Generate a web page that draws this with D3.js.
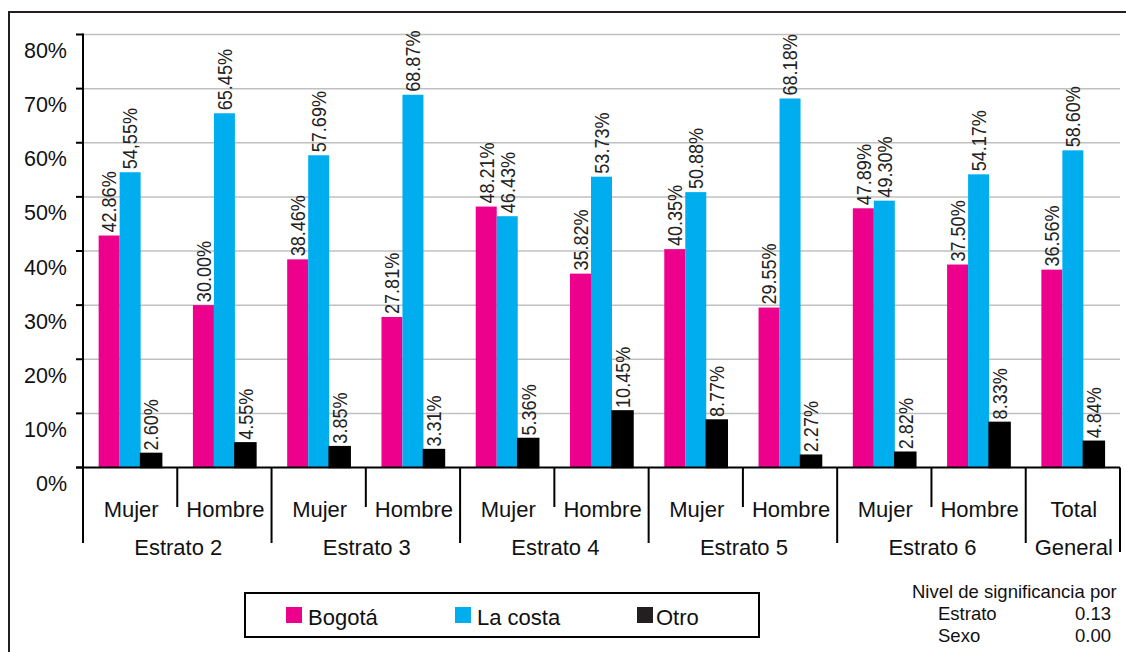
<!DOCTYPE html>
<html>
<head>
<meta charset="utf-8">
<script src="https://cdn.jsdelivr.net/npm/d3@7"></script>
<style>
  html, body { margin: 0; padding: 0; background: #fff; }
  svg { display: block; font-family: "Liberation Sans", Arial, sans-serif; }
</style>
</head>
<body>
<svg id="chart" width="1126" height="652"></svg>
<script>
// Lower axis: sex row and stratum row
const sexLabels = ["Mujer", "Hombre", "Mujer", "Hombre", "Mujer", "Hombre",
                   "Mujer", "Hombre", "Mujer", "Hombre", "Total"];
const stratumLabels = ["Estrato 2", "Estrato 3", "Estrato 4", "Estrato 5", "Estrato 6", "General"];
const stratumSpans = [2, 2, 2, 2, 2, 1];

// Series (percent)
const seriesNames = ["Bogotá", "La costa", "Otro"];
const seriesColors = ["#EC008C", "#00AEEF", "#000000"];
const bogota = [42.86, 30.00, 38.46, 27.81, 48.21, 35.82, 40.35, 29.55, 47.89, 37.50, 36.56];
const laCosta = [54.55, 65.45, 57.69, 68.87, 46.43, 53.73, 50.88, 68.18, 49.30, 54.17, 58.60];
const otro = [2.60, 4.55, 3.85, 3.31, 5.36, 10.45, 8.77, 2.27, 2.82, 8.33, 4.84];
const seriesValues = [bogota, laCosta, otro];
// labels written with a decimal comma: [series index, category index]
const commaLabels = [[1, 0]];

const yTicks = [0, 10, 20, 30, 40, 50, 60, 70, 80];

// Significance note
const noteTitle = "Nivel de significancia por";
const noteRows = [["Estrato", "0.13"], ["Sexo", "0.00"]];

(function draw() {
  const svg = d3.select("#chart");
  const W = 1126, H = 652;
  const plotLeft = 83, plotRight = 1120, plotTop = 34.5, plotBottom = 467.5;

  // Outer frame (top and left edges visible)
  svg.append("path")
    .attr("d", `M9,${H + 5}V12H${W + 5}`)
    .attr("fill", "none").attr("stroke", "#231F20").attr("stroke-width", 2);

  const x = d3.scaleBand().domain(d3.range(sexLabels.length)).range([plotLeft, plotRight]).padding(0);
  const g = x.bandwidth();
  const xs = d3.scaleBand().domain(d3.range(seriesNames.length)).range([0, g])
    .paddingInner(0).paddingOuter(0.745);
  const y = d3.scaleLinear().domain([0, 80]).range([plotBottom, plotTop]);

  // Gridlines
  svg.append("g").selectAll("line").data(yTicks.filter(d => d > 0)).join("line")
    .attr("x1", plotLeft).attr("x2", plotRight)
    .attr("y1", d => y(d)).attr("y2", d => y(d))
    .attr("stroke", "#c0c0c0").attr("stroke-width", 1.5);

  // Bars
  const fmt = d3.format(".2f");
  const barData = [];
  seriesValues.forEach((vals, s) => vals.forEach((v, i) => {
    let label = fmt(v) + "%";
    if (commaLabels.some(([cs, ci]) => cs === s && ci === i)) label = label.replace(".", ",");
    barData.push({ s, i, v, label });
  }));

  svg.append("g").selectAll("rect").data(barData).join("rect")
    .attr("x", d => x(d.i) + xs(d.s))
    .attr("width", xs.bandwidth())
    .attr("y", d => y(d.v))
    .attr("height", d => y(0) - y(d.v))
    .attr("fill", d => seriesColors[d.s])
    .attr("stroke", d => d.s === 2 ? "#000" : "none")
    .attr("stroke-width", 1.5);

  // Value labels, vertical
  svg.append("g").selectAll("text").data(barData).join("text")
    .attr("transform", d => `translate(${x(d.i) + xs(d.s) + xs.bandwidth() / 2},${y(d.v) - 3}) rotate(-90) scale(0.86,1)`)
    .attr("dy", "0.35em")
    .attr("text-anchor", "start")
    .attr("font-size", 21)
    .attr("fill", "#222")
    .text(d => d.label);

  // Y axis
  const yAxis = svg.append("g");
  yAxis.append("line").attr("x1", plotLeft).attr("x2", plotLeft).attr("y1", y(80) - 1).attr("y2", 543)
    .attr("stroke", "#000").attr("stroke-width", 2);
  yAxis.selectAll(".tick").data(yTicks).join("line")
    .attr("class", "tick")
    .attr("x1", plotLeft - 7).attr("x2", plotLeft)
    .attr("y1", d => y(d)).attr("y2", d => y(d))
    .attr("stroke", "#000").attr("stroke-width", 2);
  yAxis.selectAll("text").data(yTicks).join("text")
    .attr("x", 67).attr("y", d => y(d) + 23.5)
    .attr("text-anchor", "end")
    .attr("font-size", 21.5)
    .attr("fill", "#111")
    .text(d => d + "%");

  // X axis line
  svg.append("line").attr("x1", plotLeft - 7).attr("x2", plotRight).attr("y1", y(0)).attr("y2", y(0))
    .attr("stroke", "#000").attr("stroke-width", 2);

  // Category dividers: short between sexes, long between strata
  const stratumEnds = [];
  stratumSpans.reduce((acc, n) => { stratumEnds.push(acc + n); return acc + n; }, 0);
  const dividers = d3.range(1, sexLabels.length + 1).map(k => ({
    k, long: stratumEnds.includes(k)
  }));
  svg.append("g").selectAll("line").data(dividers).join("line")
    .attr("x1", d => x.step() * d.k + plotLeft).attr("x2", d => x.step() * d.k + plotLeft)
    .attr("y1", y(0)).attr("y2", d => d.k === sexLabels.length ? 552 : (d.long ? 543 : 507))
    .attr("stroke", "#000").attr("stroke-width", 2);

  svg.append("g").selectAll("text").data(sexLabels).join("text")
    .attr("x", (d, i) => x(i) + g / 2 + 1)
    .attr("y", 517)
    .attr("text-anchor", "middle")
    .attr("font-size", 22)
    .attr("fill", "#111")
    .text(d => d);

  let startIdx = 0;
  const stratumPos = stratumSpans.map(n => { const s = startIdx; startIdx += n; return { s, n }; });
  svg.append("g").selectAll("text").data(stratumLabels).join("text")
    .attr("x", (d, i) => x(stratumPos[i].s) + stratumPos[i].n * g / 2 + 1)
    .attr("y", 555)
    .attr("text-anchor", "middle")
    .attr("font-size", 22)
    .attr("fill", "#111")
    .text(d => d);

  // Legend
  const legend = svg.append("g");
  legend.append("rect").attr("x", 245).attr("y", 593).attr("width", 514).attr("height", 44)
    .attr("fill", "#fff").attr("stroke", "#000").attr("stroke-width", 2);
  const legendX = [286, 455, 637];
  const legendColors = ["#EC008C", "#00AEEF", "#231F20"];
  seriesNames.forEach((name, i) => {
    legend.append("rect").attr("x", legendX[i]).attr("y", 607).attr("width", 16).attr("height", 16)
      .attr("fill", legendColors[i]);
    legend.append("text").attr("x", legendX[i] + (i === 2 ? 19 : 22)).attr("y", 625)
      .attr("font-size", 22).attr("fill", "#111").text(name);
  });

  // Significance note
  const note = svg.append("g").attr("font-size", 18.5).attr("fill", "#111");
  note.append("text").attr("x", 912).attr("y", 598).text(noteTitle);
  noteRows.forEach((r, i) => {
    note.append("text").attr("x", 938).attr("y", 620 + i * 22).text(r[0]);
    note.append("text").attr("x", 1111).attr("y", 620 + i * 22).attr("text-anchor", "end").text(r[1]);
  });
})();
</script>
</body>
</html>
